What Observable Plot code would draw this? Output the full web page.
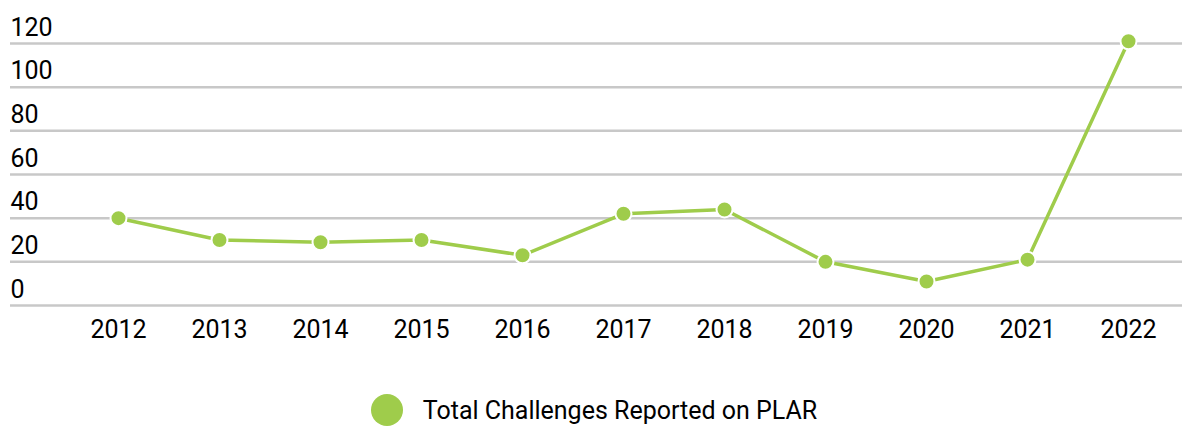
<!DOCTYPE html>
<html>
<head>
<meta charset="utf-8">
<script src="https://cdn.jsdelivr.net/npm/d3@7"></script>
<script src="https://cdn.jsdelivr.net/npm/@observablehq/plot@0.6"></script>
<style>
  html, body { margin: 0; padding: 0; background: #fff; }
  body { width: 1188px; height: 429px; overflow: hidden; font-family: Roboto, "Noto Sans", sans-serif; }
  #chart svg { display: block; }
  #legend { display: flex; align-items: center; justify-content: center; height: 38px; margin-top: 21px; }
  #legend .sw { width: 32px; height: 32px; border-radius: 50%; margin-right: 20px; }
  #legend .lb { font-size: 25px; font-weight: 400; color: #000; }
</style>
</head>
<body>
<div id="chart"></div>
<div id="legend"></div>
<script>
const years = ["2012","2013","2014","2015","2016","2017","2018","2019","2020","2021","2022"];
const challenges = [40, 30, 29, 30, 23, 42, 44, 20, 11, 21, 121];
const yTicks = [0, 20, 40, 60, 80, 100, 120];
const seriesName = "Total Challenges Reported on PLAR";
const green = "#9fcc4b";

const data = years.map((y, i) => ({year: y, value: challenges[i]}));

const chart = Plot.plot({
  width: 1188,
  height: 370,
  marginLeft: 10,
  marginRight: 6,
  marginTop: 43,
  marginBottom: 65,
  style: {fontFamily: "Roboto, sans-serif", fontSize: "25px", color: "#000", background: "#fff"},
  x: {type: "point", domain: years, range: [65, 1181], padding: 0.5, label: null},
  y: {domain: [0, 120], label: null},
  marks: [
    Plot.ruleY(yTicks, {stroke: "#c8c8c8", strokeWidth: 2.5}),
    Plot.axisY(yTicks, {anchor: "left", tickSize: 0, tickPadding: 0, textAnchor: "start", dy: -16, fontSize: 25, fill: "#000", label: null}),
    Plot.axisX({anchor: "bottom", tickSize: 0, tickPadding: 15, fontSize: 25, fill: "#000", label: null}),
    Plot.line(data, {x: "year", y: "value", stroke: green, strokeWidth: 3.5}),
    Plot.dot(data, {x: "year", y: "value", r: 8, fill: green, stroke: "#fff", strokeWidth: 2})
  ]
});
document.getElementById("chart").appendChild(chart);

const lg = document.getElementById("legend");
lg.innerHTML = `<span class="sw" style="background:${green}"></span><span class="lb">${seriesName}</span>`;
</script>
</body>
</html>
